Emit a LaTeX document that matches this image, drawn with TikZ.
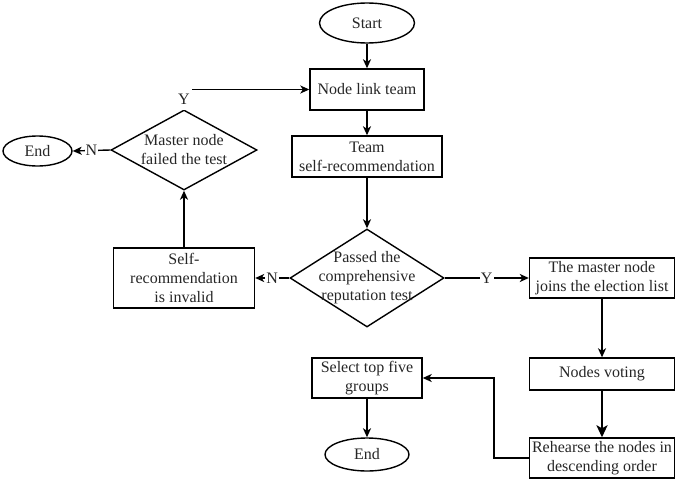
\documentclass[tikz,border=0pt]{standalone}
\usepackage{fontspec}
\setmainfont{Liberation Serif}
\usetikzlibrary{shapes.geometric,arrows.meta}
\begin{document}
\begin{tikzpicture}[x=1pt,y=-1pt,
  every node/.style={font=\fontsize{16}{19}\selectfont, align=center, inner sep=0pt, text=black!85},
  box/.style={draw=black, line width=1.4pt, rectangle},
  term/.style={draw=black, line width=1.4pt, ellipse},
  dec/.style={draw=black, line width=1.4pt, diamond},
  arr/.style={line width=1.4pt, -{Stealth[length=9pt,width=8pt,inset=2.5pt]}},
  thickarr/.style={line width=2.6pt, -{Stealth[length=12pt,width=11pt,inset=3pt]}},
  lbl/.style={fill=white, inner sep=1pt}]
\useasboundingbox (0,0) rectangle (685,482);

\node[term, minimum width=95pt, minimum height=40pt] (start) at (367,23) {Start};
\node[box, minimum width=114pt, minimum height=41pt] (link) at (367,89.5) {Node link team};
\node[box, minimum width=150pt, minimum height=41pt] (team) at (367,156.5) {Team\\self-recommendation};
\node[dec, minimum width=146pt, minimum height=80pt,
      label={[align=center]center:Master node\\failed the test}] (master) at (184,150) {};
\node[term, minimum width=69pt, minimum height=30pt] (endA) at (37.5,151) {End};
\node[dec, minimum width=154pt, minimum height=98pt,
      label={[align=center]center:Passed the\\comprehensive\\reputation test}] (pass) at (367,278) {};
\node[box, minimum width=141pt, minimum height=60pt] (invalid) at (184,278) {Self-\\recommendation\\is invalid};
\node[box, minimum width=145pt, minimum height=40pt] (join) at (602,278) {The master node\\joins the election list};
\node[box, minimum width=145pt, minimum height=32pt] (vote) at (602,374) {Nodes voting};
\node[box, minimum width=145pt, minimum height=40pt] (rank) at (602,458) {Rehearse the nodes in\\descending order};
\node[box, minimum width=110pt, minimum height=40pt] (top5) at (367,378) {Select top five\\groups};
\node[term, minimum width=84pt, minimum height=33pt] (endB) at (367,454.5) {End};

\draw[arr] (start) -- (link);
\draw[arr] (link) -- (team);
\draw[arr] (team) -- (pass);
\draw[arr] (pass.west) -- node[lbl]{N} (invalid.east);
\draw[arr] (pass.east) -- node[lbl]{Y} (join.west);
\draw[arr] (invalid.north) -- (master.south);
\draw[arr] (master.west) -- node[lbl]{N} (endA.east);
\draw[arr] (master.north) |- node[lbl, pos=0.25, inner ysep=5pt, inner xsep=2pt]{Y} (link.west);
\draw[arr] (join) -- (vote);
\draw[thickarr] (vote) -- (rank);
\draw[arr] (rank.west) -- ++(-35,0) |- (top5.east);
\draw[arr] (top5) -- (endB);
\end{tikzpicture}
\end{document}
